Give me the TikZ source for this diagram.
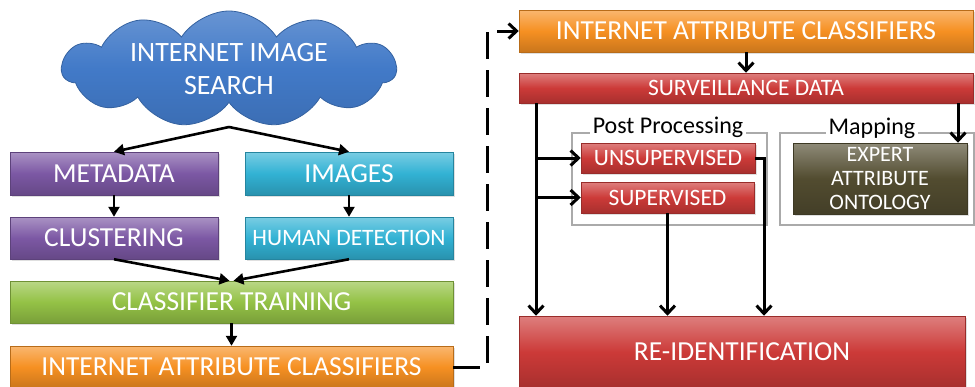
\documentclass[tikz,border=0pt]{standalone}
\usepackage{fontspec}
\setmainfont{Carlito}
\usetikzlibrary{shapes.symbols,arrows.meta,shadows}
\definecolor{cblue}{RGB}{66,122,200}
\definecolor{cpurple}{RGB}{124,88,164}
\definecolor{ccyan}{RGB}{50,178,212}
\definecolor{cgreen}{RGB}{148,194,70}
\definecolor{corange}{RGB}{246,144,34}
\definecolor{cred}{RGB}{204,58,56}
\definecolor{colive}{RGB}{82,76,48}
\definecolor{cframe}{RGB}{170,170,170}
\begin{document}
\begin{tikzpicture}[x=1pt,y=-1pt,
  box/.style={rectangle, inner sep=0pt, text=white, align=center,
    draw=#1!75!black, line width=0.5pt,
    top color=#1!65!white, bottom color=#1!82!black, middle color=#1,
    drop shadow={opacity=0.25, shadow xshift=1.5pt, shadow yshift=-1.5pt}},
  bigtxt/.style={font=\fontsize{27.5}{30}\selectfont},
  medtxt/.style={font=\fontsize{23.5}{26}\selectfont},
  smltxt/.style={font=\fontsize{22}{24}\selectfont},
  larr/.style={-{Triangle[length=10pt,width=11pt]}, line width=2.6pt},
  rarr/.style={-{Straight Barb[length=8pt,width=15pt]}, line width=3pt},
  dlink/.style={line width=3pt, dash pattern=on 27pt off 11pt,
    -{Straight Barb[length=8pt,width=15pt]}},
  grp/.style={draw=cframe, line width=1.3pt},
  grplbl/.style={fill=white, inner sep=3pt, text=black, font=\fontsize{24}{26}\selectfont}]
\useasboundingbox (0,0) rectangle (975,386);

% cloud
\node[cloud, cloud puffs=11, cloud puff arc=115, cloud ignores aspect,
  minimum width=334pt, minimum height=116pt, inner sep=0pt,
  draw=cblue!80!black, line width=0.8pt,
  top color=cblue!80!white, bottom color=cblue!90!black, middle color=cblue,
  text=white, align=center, font=\fontsize{28}{33}\selectfont]
  (cloud) at (229,69) {INTERNET IMAGE\\SEARCH};
\coordinate (cb) at (229,127);

% left column boxes
\node[box=cpurple, bigtxt, minimum width=208pt, minimum height=43pt] (meta) at (114,173.5) {METADATA};
\node[box=ccyan, bigtxt, minimum width=208pt, minimum height=43pt] (img) at (349,173.5) {IMAGES};
\node[box=cpurple, bigtxt, minimum width=208pt, minimum height=42pt] (clus) at (114,238) {CLUSTERING};
\node[box=ccyan, medtxt, minimum width=208pt, minimum height=42pt] (hum) at (349,238) {HUMAN DETECTION};
\node[box=cgreen, bigtxt, minimum width=443pt, minimum height=42pt] (train) at (231.5,302) {CLASSIFIER TRAINING};
\node[box=corange, bigtxt, minimum width=443pt, minimum height=42pt] (liac) at (231.5,367) {INTERNET ATTRIBUTE CLASSIFIERS};

% right column boxes
\node[box=corange, bigtxt, minimum width=454pt, minimum height=42pt] (riac) at (746,31) {INTERNET ATTRIBUTE CLASSIFIERS};
\node[box=cred, medtxt, minimum width=454pt, minimum height=30pt] (surv) at (746,88) {SURVEILLANCE DATA};

% group frames
\draw[grp] (572,133) rectangle (767,225);
\draw[grp] (780,133) rectangle (974,225);
\node[grplbl] (pplbl) at (668,127) {Post Processing};
\node[grplbl] (maplbl) at (872,128) {Mapping};

\node[box=cred, medtxt, minimum width=174pt, minimum height=30pt] (unsup) at (668,158) {UNSUPERVISED};
\node[box=cred, medtxt, minimum width=173pt, minimum height=31pt] (sup) at (667.5,197.5) {SUPERVISED};
\node[box=colive, smltxt, minimum width=174pt, minimum height=71pt] (expert) at (880,178.5) {EXPERT\\ATTRIBUTE\\ONTOLOGY};
\node[box=cred, bigtxt, minimum width=446pt, minimum height=72pt] (reid) at (742,352) {RE-IDENTIFICATION};

% left arrows
\draw[larr] (cb) -- (meta.north);
\draw[larr] (cb) -- (img.north);
\draw[larr] (meta.south) -- (clus.north);
\draw[larr] (img.south) -- (hum.north);
\draw[larr] (clus.south) -- ([xshift=-2pt]train.north);
\draw[larr] (hum.south) -- ([xshift=2pt]train.north);
\draw[larr] (train.south) -- (liac.north);

% dashed link
\coordinate (d1) at (487,367);
\coordinate (d2) at (487,31);
\draw[dlink] (liac.east) -- (d1) -- (d2) -- (riac.west);

% right arrows
\draw[rarr] (riac.south) -- (surv.north);
\coordinate (sl) at (536,103);
\coordinate (sr) at (958,103);
\coordinate (ur) at (764,158);
\draw[rarr] (sl) -- (sl |- reid.north);
\draw[rarr] (sl |- unsup.west) -- (unsup.west);
\draw[rarr] (sl |- sup.west) -- (sup.west);
\draw[rarr] (sr) -- (sr |- expert.north);
\draw[rarr] (sup.south) -- (sup.south |- reid.north);
\draw[rarr] (unsup.east) -- (ur) -- (ur |- reid.north);
\end{tikzpicture}
\end{document}
